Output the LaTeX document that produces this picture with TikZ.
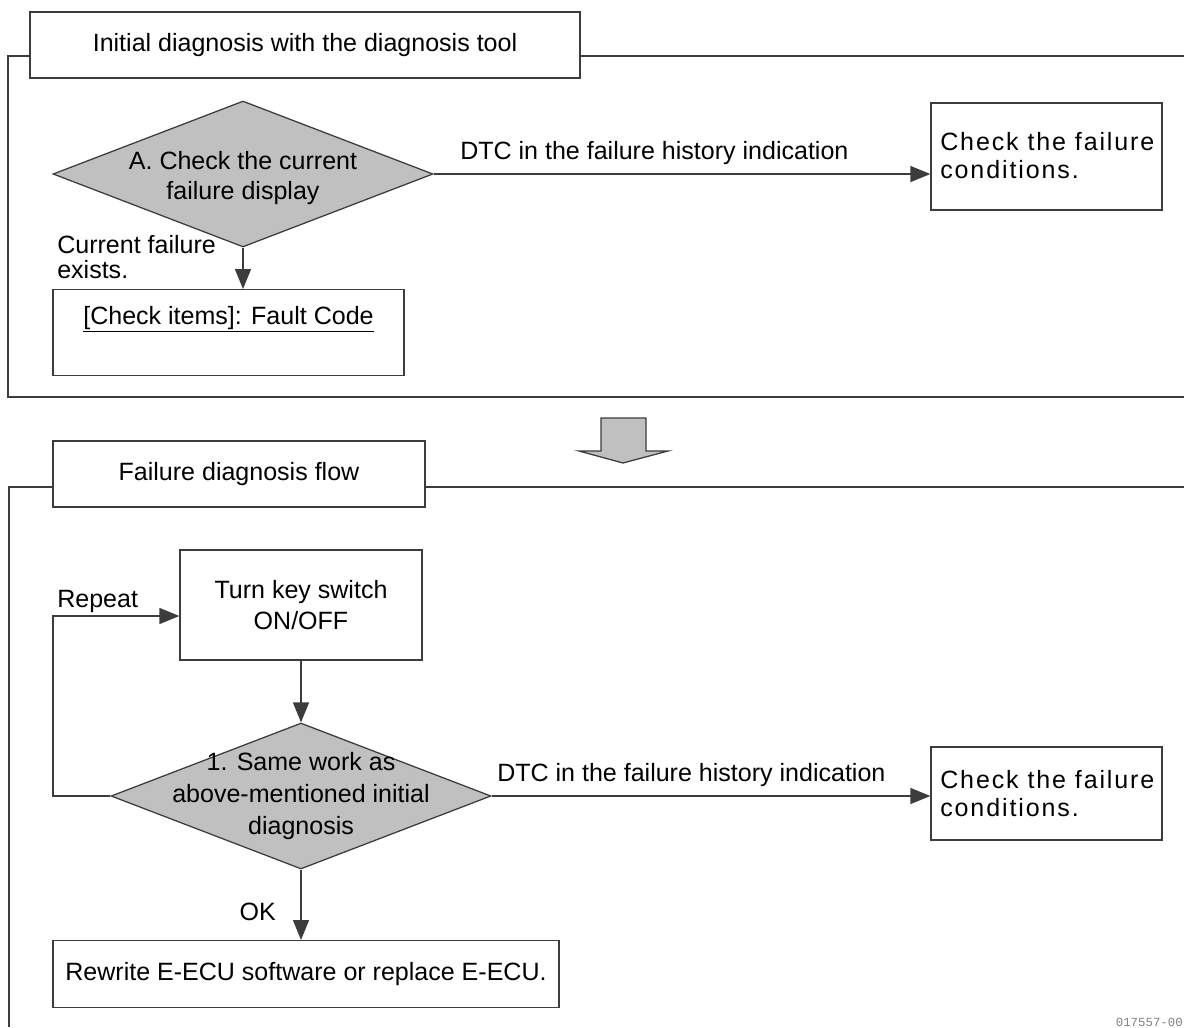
\documentclass[tikz,border=0pt]{standalone}
\usepackage{fontspec}
\setmainfont{Liberation Sans}
\newfontfamily\widefont{Liberation Sans}[LetterSpace=7.5]
\newfontfamily\codefont{Liberation Mono}
\usetikzlibrary{arrows.meta,shapes.geometric}
\newcommand{\px}{0.025cm}
\definecolor{diagray}{RGB}{192,192,192}
\definecolor{linegray}{RGB}{60,60,60}
\tikzset{
  frame/.style={draw=linegray, line width=0.9pt},
  titlebox/.style={draw=linegray, fill=white, line width=0.9pt, minimum height=66*\px, inner sep=0pt},
  stepbox/.style={draw=linegray, line width=0.9pt, inner sep=0pt},
  decision/.style={diamond, draw=linegray, fill=diagray, line width=0.9pt, inner sep=0pt, minimum width=380*\px, minimum height=146*\px},
  flow/.style={draw=linegray, line width=1pt, -{Triangle[length=20*\px, width=16*\px]}},
  txt/.style={inner sep=0pt, align=center},
}

\begin{document}
\begin{tikzpicture}[x=\px, y=-\px, font=\fontsize{17.8}{22}\selectfont]
  \useasboundingbox (0,0) rectangle (1184,1027);
  \draw[frame] (1184,56) -- (8,56) -- (8,397) -- (1184,397);
  \node[titlebox, minimum width=550*\px] (initial) at (305,45) {Initial diagnosis with the diagnosis tool};
  \node[decision] (checka) at (243,174) {};
  \node[txt, font=\fontsize{17.8}{22}\selectfont] at (243,178) {A. Check the current\\failure display};
  \node[stepbox, minimum width=231*\px, minimum height=107*\px] (histA) at (1046.5,156.5) {};
  \node[anchor=north west, inner sep=0pt, align=left, font=\widefont\fontsize{17.8}{19.9}\selectfont] at (940,132) {Check the failure\\conditions.};
  \draw[flow] (checka.east) -- (checka.east -| histA.west);
  \node[anchor=base west, inner sep=0pt] (dtcA) at (460,159) {DTC in the failure history indication};
  \node[stepbox, minimum width=351*\px, minimum height=86*\px, anchor=north] (items) at (228.5,289) {};
  \node[anchor=base, inner sep=0pt] (itemstxt) at (228.5,324) {\underline{[Check items]: Fault Code}};
  \draw[flow] (checka.south) -- (checka.south |- items.north);
  \node[anchor=north west, inner sep=0pt, align=left, font=\fontsize{17.8}{17.5}\selectfont] (exists) at (57,235) {Current failure\\exists.};

  \draw[stepbox, fill=diagray] (601,418) -- (646,418) -- (646,451) -- (668,451) -- (623,463) -- (579,451) -- (601,451) -- cycle;

  \draw[frame] (1184,487) -- (9,487) -- (9,1027);
  \node[titlebox, minimum width=372*\px] (failflow) at (239,474) {Failure diagnosis flow};
  \node[stepbox, minimum width=242*\px, minimum height=110*\px, align=center, font=\fontsize{17.8}{22}\selectfont] (keysw) at (301,605) {Turn key switch\\ON/OFF};
  \node[decision] (same) at (301,796) {};
  \node[txt, font=\fontsize{17.8}{22.75}\selectfont] at (301,796) {1. Same work as\\above-mentioned initial\\diagnosis};
  \draw[flow] (keysw.south) -- (same.north);
  \coordinate (loop) at (53,796);
  \draw[flow] (same.west) -- (loop) |- ([yshift=-11*\px]keysw.west);
  \node[anchor=base west, inner sep=0pt] (repeat) at (57,607) {Repeat};
  \node[stepbox, minimum width=231*\px, minimum height=93*\px] (histB) at (1046.5,793.5) {};
  \node[anchor=north west, inner sep=0pt, align=left, font=\widefont\fontsize{17.8}{19.9}\selectfont] at (940,770) {Check the failure\\conditions.};
  \draw[flow] (same.east) -- (same.east -| histB.west);
  \node[anchor=base west, inner sep=0pt] (dtcB) at (497,781) {DTC in the failure history indication};
  \node[stepbox, minimum width=506*\px, minimum height=67*\px, anchor=north] (rewrite) at (306,940) {Rewrite E-ECU software or replace E-ECU.};
  \draw[flow] (same.south) -- (same.south |- rewrite.north);
  \node[anchor=base east, inner sep=0pt] (ok) at (276,920) {OK};
  \node[anchor=base east, inner sep=0pt, text=gray, font=\codefont\fontsize{8.8}{10}\selectfont] (code) at (1183,1026) {017557-00};
\end{tikzpicture}
\end{document}
